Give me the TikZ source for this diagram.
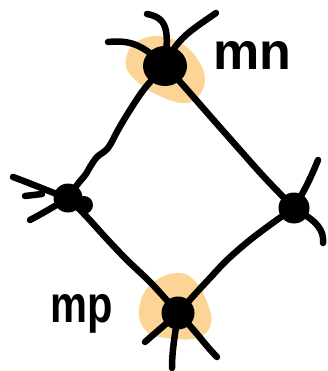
\documentclass[tikz,border=0pt]{standalone}
\usepackage{fontspec}
\setmainfont{Liberation Sans}
\definecolor{glow}{RGB}{252,213,150}
\begin{document}
\begin{tikzpicture}[x=1pt,y=-1pt,
  ink/.style={line width=6.5pt,line cap=round,line join=round},
  dot/.style={circle,fill=black,inner sep=0pt,minimum size=#1},
  lbl/.style={font=\fontsize{52}{60}\selectfont\bfseries,inner sep=0pt,anchor=base}]
\useasboundingbox (0,0) rectangle (327,371);

% highlight patches
\fill[glow] plot[smooth cycle,tension=0.7] coordinates
  {(157,36) (182,44) (198,60) (205,80) (197,98) (183,103) (162,97) (140,84) (126,66) (133,45)};
\fill[glow] plot[smooth cycle,tension=0.7] coordinates
  {(176,273) (195,281) (207,302) (211,324) (197,338) (166,338) (146,331) (139,310) (150,285)};

% vertices
\node[dot=40pt,xscale=1.1] (T) at (165,66) {};
\node[dot=29pt] (L) at (68,198) {};
\fill (84,205) circle (9);
\node[dot=31pt] (R) at (294,208) {};
\node[dot=33pt] (B) at (178,313) {};

% edges of the diamond
\draw[ink] plot[smooth,tension=0.6] coordinates
  {(T.center) (145,88) (130,110) (118,130) (108,148) (97,157) (90,167) (86,174) (77,185) (L.center)};
\draw[ink] plot[smooth,tension=0.6] coordinates
  {(T.center) (182,84) (210,116) (240,150) (265,178) (R.center)};
\draw[ink] plot[smooth,tension=0.6] coordinates
  {(L.center) (86,216) (106,238) (127,260) (152,284) (B.center)};
\draw[ink] plot[smooth,tension=0.6] coordinates
  {(R.center) (274,222) (250,240) (227,260) (210,278) (197,292) (B.center)};

% loose strokes around the top vertex
\draw[ink] (108,42) .. controls (130,40) and (142,44) .. (T.center);
\draw[ink] (147,14) .. controls (170,18) and (168,35) .. (T.center);
\draw[ink] (216,13) .. controls (192,30) and (176,38) .. (T.center);

% loose strokes around the left vertex
\draw[ink] (13,177) .. controls (35,185) and (50,192) .. (L.center);
\draw[ink] (25,196) -- (42,194);
\draw[ink] (30,220) .. controls (45,212) and (55,206) .. (L.center);

% loose strokes around the right vertex
\draw[ink] (R.center) .. controls (305,190) and (312,175) .. (318,160);
\draw[ink] (R.center) .. controls (318,222) and (324,230) .. (323,243);

% loose strokes around the bottom vertex
\draw[ink] (B.center) .. controls (165,325) and (155,333) .. (145,342);
\draw[ink] (B.center) .. controls (175,335) and (172,350) .. (172,368);
\draw[ink] (B.center) .. controls (195,330) and (205,345) .. (217,357);

% labels
\node[lbl] (mn) at (252,70) {mn};
\node[lbl] (mp) at (82,322) {\scalebox{0.8}[1]{mp}};
\end{tikzpicture}
\end{document}
